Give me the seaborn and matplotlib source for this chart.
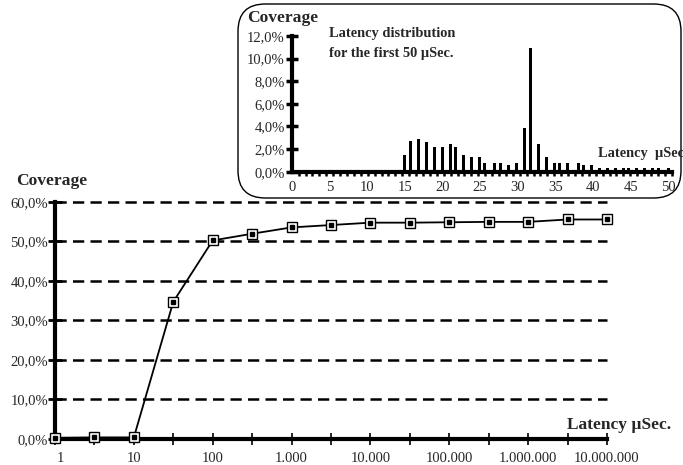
import matplotlib
matplotlib.use("Agg")
import matplotlib.pyplot as plt
from matplotlib.patches import FancyBboxPatch
from matplotlib.transforms import ScaledTranslation
import numpy as np
import pandas as pd
import seaborn as sns

# ---- data ----
latency_labels = ["1", "3", "10", "30", "100", "300", "1.000", "3.000", "10.000",
                  "30.000", "100.000", "300.000", "1.000.000", "3.000.000", "10.000.000"]
coverage = [0.3, 0.4, 0.4, 34.7, 50.2, 51.9, 53.5, 54.1, 54.7, 54.7, 54.8, 54.9, 54.9, 55.5, 55.5]
main_yticks = [0, 10, 20, 30, 40, 50, 60]

dist_latency = [14.95, 15.75, 16.8, 17.9, 18.9, 20.0, 21.05, 21.7, 22.8, 23.85, 24.9, 25.6,
                26.95, 27.7, 28.8, 29.8, 30.9, 31.7, 32.75, 33.8, 34.9, 35.5, 36.6, 38.1,
                38.7, 39.8, 40.85, 41.9, 43.0, 44.0, 44.7, 45.8, 46.8, 47.9, 48.7, 50.0]
dist_coverage = [1.5, 2.7, 2.9, 2.6, 2.2, 2.2, 2.45, 2.2, 1.5, 1.3, 1.3, 0.8,
                 0.8, 0.8, 0.6, 0.8, 3.9, 10.9, 2.45, 1.3, 0.8, 0.8, 0.8, 0.8,
                 0.6, 0.6, 0.3, 0.3, 0.3, 0.3, 0.3, 0.3, 0.3, 0.3, 0.3, 0.3]
inset_yticks = [0, 2, 4, 6, 8, 10, 12]
inset_xticks = [0, 5, 10, 15, 20, 25, 30, 35, 40, 45, 50]

sns.set_theme(style="white")
plt.rcParams['font.family'] = ['Liberation Serif', 'DejaVu Serif']

W, H = 683, 465
fig = plt.figure(figsize=(W / 100, H / 100), dpi=100)


def fx(px):
    return px / W


def fy(py):
    return 1 - py / H


# ---- main axes ----
ax = fig.add_axes([fx(55), fy(439), fx(607) - fx(55), fy(201.7) - fy(439)])
ax.set_zorder(0)
df = pd.DataFrame({"pos": np.arange(len(latency_labels)), "cov": coverage})
sns.lineplot(data=df, x="pos", y="cov", ax=ax, color="black", linewidth=1.3,
             marker="s", markersize=7, markerfacecolor="white", markeredgecolor="black",
             markeredgewidth=1.0, clip_on=False, zorder=5)
ax.plot(df["pos"], df["cov"], linestyle="none", marker="s", markersize=3.2,
        color="black", clip_on=False, zorder=6)
ax.set_xlim(0, len(latency_labels) - 1)
ax.set_ylim(0, 60)
for v in main_yticks[1:]:
    ax.plot([0, len(latency_labels) - 1], [v, v], color="black", linewidth=1.8,
            linestyle=(0, (4.5, 2.5)), zorder=1, clip_on=False)
ax.set_xticks(df["pos"])
ax.set_xticklabels([lab if i % 2 == 0 else "" for i, lab in enumerate(latency_labels)])
ax.set_yticks(main_yticks)
ax.set_yticklabels([f"{v:.1f}%".replace(".", ",") for v in main_yticks])
ax.set_xlabel("")
ax.set_ylabel("")
for s in ["top", "right"]:
    ax.spines[s].set_visible(False)
for s in ["left", "bottom"]:
    ax.spines[s].set_linewidth(3)
    ax.spines[s].set_color("black")
ax.tick_params(axis="x", direction="inout", length=8, width=1.2, color="black",
               labelsize=10.5, pad=5, bottom=True)
ax.tick_params(axis="y", direction="inout", length=10, width=2, color="black",
               labelsize=10.5, pad=0, left=True)
first = ax.get_xticklabels()[0]
first.set_transform(first.get_transform() + ScaledTranslation(5 / 100, 0, fig.dpi_scale_trans))
ax.patch.set_alpha(0)

fig.text(fx(16.5), fy(181), "Coverage", fontsize=12.6, fontweight="bold", va="center", ha="left")
fig.text(fx(567), fy(425), "Latency \u00b5Sec.", fontsize=12.5, fontweight="bold",
         va="center", ha="left")

# ---- inset frame ----
box = FancyBboxPatch((fx(238), fy(198)), fx(681) - fx(238), fy(4) - fy(198),
                     boxstyle="round,pad=0,rounding_size=0.04", transform=fig.transFigure,
                     facecolor="white", edgecolor="black", linewidth=1.0, zorder=1,
                     mutation_aspect=W / H)
fig.patches.append(box)

# ---- inset axes ----
ax2 = fig.add_axes([fx(291.7), fy(171.7), fx(672) - fx(291.7), fy(36) - fy(171.7)])
ax2.set_zorder(2)
ax2.patch.set_alpha(0)
ax2.bar(dist_latency, dist_coverage, width=0.4, color="black", linewidth=0)
ax2.set_xlim(0, 50.5)
ax2.set_ylim(0, 12)
ax2.set_xticks(inset_xticks)
ax2.set_xticks(np.arange(0, 50.5, 50 / 54.5), minor=True)
ax2.set_yticks(inset_yticks)
ax2.set_yticklabels([f"{v:.1f}%".replace(".", ",") for v in inset_yticks])
for s in ["top", "right"]:
    ax2.spines[s].set_visible(False)
for s in ["left", "bottom"]:
    ax2.spines[s].set_linewidth(3)
    ax2.spines[s].set_color("black")
ax2.tick_params(axis="x", which="major", length=0, labelsize=10.5, pad=7, bottom=True)
ax2.tick_params(axis="x", which="minor", direction="out", length=3, width=1.8,
                color="black", bottom=True)
ax2.tick_params(axis="y", direction="inout", length=8, width=2.5, color="black",
                labelsize=10.5, pad=1, left=True)

fig.text(fx(247), fy(18), "Coverage", fontsize=12.6, fontweight="bold", va="center", ha="left")
fig.text(fx(329), fy(33), "Latency distribution", fontsize=10.4, fontweight="bold",
         va="center", ha="left")
fig.text(fx(329), fy(53), "for the first 50 \u00b5Sec.", fontsize=10.4, fontweight="bold",
         va="center", ha="left")
fig.text(fx(598), fy(153), "Latency  \u00b5Sec", fontsize=10.4, fontweight="bold",
         va="center", ha="left", zorder=3)

fig.savefig("out.png", dpi=100)
